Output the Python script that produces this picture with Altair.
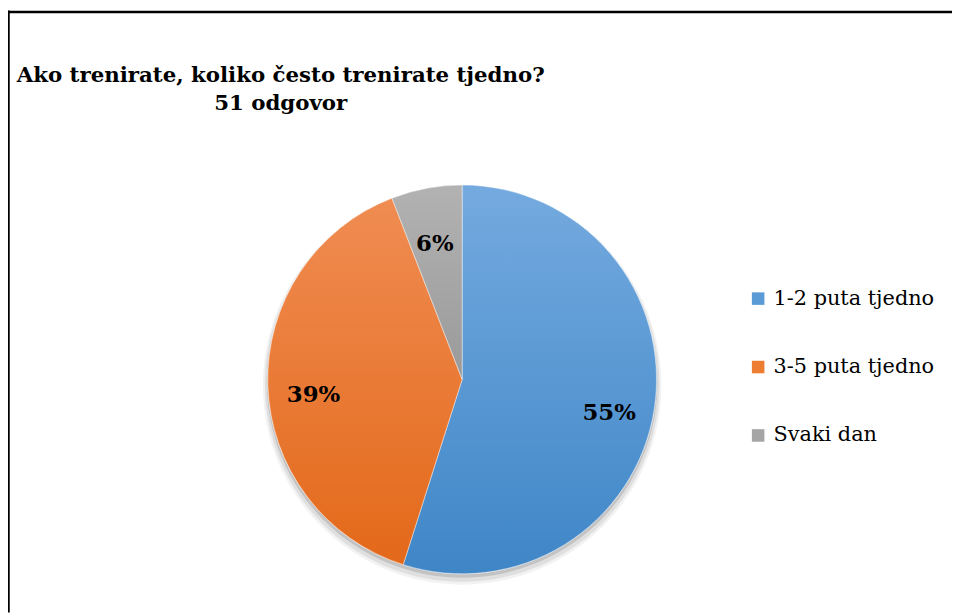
import altair as alt
import pandas as pd

# ---- data ----
categories = ["1-2 puta tjedno", "3-5 puta tjedno", "Svaki dan"]
counts = [28, 20, 3]          # 51 responses -> 55%, 39%, 6%
title_lines = ["Ako trenirate, koliko često trenirate tjedno?", "51 odgovor"]

solid_colors = ["#5b9bd5", "#ed7d31", "#a5a5a5"]
grad_top = ["#74aadf", "#f08c52", "#b2b2b2"]
grad_bottom = ["#3f86c7", "#e3691a", "#9a9a9a"]

FONT = "DejaVu Serif"

W, H = 952, 607
CX, CY, R = 458, 372, 196

df = pd.DataFrame({"cat": categories, "count": counts, "idx": list(range(len(categories)))})

base = alt.Chart(df).transform_joinaggregate(
    total="sum(count)"
).transform_window(
    cum="sum(count)", sort=[alt.SortField("idx")], frame=[None, 0]
).transform_calculate(
    start="(datum.cum - datum.count) / datum.total",
    end="datum.cum / datum.total",
    mid="(datum.cum - datum.count / 2) / datum.total",
    label="format(datum.count / datum.total, '.0%')",
)

theta_scale = alt.Scale(domain=[0, 1], range=[0, 6.283185307179586])

shadow_layers = []
for rad, dy, op in [(201, 6, 0.05), (199, 5, 0.08), (197, 3, 0.12)]:
    shadow_layers.append(
        alt.Chart(alt.Data(values=[{"a": 0}])).mark_arc(color="#000000", opacity=op).encode(
            x=alt.value(CX), y=alt.value(CY + dy),
            theta=alt.value(0), theta2=alt.value(6.283185307179586),
            radius=alt.value(rad),
        )
    )

solid = base.mark_arc(stroke="#ffffff", strokeWidth=0.6).encode(
    x=alt.value(CX), y=alt.value(CY),
    theta=alt.Theta("start:Q", scale=theta_scale, stack=None),
    theta2="end:Q",
    radius=alt.value(R),
    color=alt.Color(
        "cat:N",
        scale=alt.Scale(domain=categories, range=solid_colors),
        legend=alt.Legend(
            title=None, orient="none", legendX=746, legendY=280,
            symbolType="square", symbolSize=160, symbolStrokeWidth=0,
            labelFont=FONT, labelFontSize=21, labelColor="#000000",
            labelOffset=5, rowPadding=47, labelLimit=300,
        ),
    ),
)

grad_layers = []
for i, c in enumerate(categories):
    grad = alt.LinearGradient(
        gradient="linear", x1=0, y1=0, x2=0, y2=1,
        stops=[alt.GradientStop(offset=0, color=grad_top[i]),
               alt.GradientStop(offset=1, color=grad_bottom[i])],
    )
    grad_layers.append(
        base.transform_filter(alt.datum.cat == c).mark_arc(
            fill=grad, stroke="#ffffff", strokeWidth=0.6, strokeOpacity=0.7
        ).encode(
            x=alt.value(CX), y=alt.value(CY),
            theta=alt.Theta("start:Q", scale=theta_scale, stack=None),
            theta2="end:Q",
            radius=alt.value(R),
        )
    )

labels = base.mark_text(
    font=FONT, fontWeight="bold", fontSize=23, color="#000000",
    align="center", baseline="middle", dy=11,
).encode(
    x=alt.value(CX), y=alt.value(CY),
    theta=alt.Theta("mid:Q", scale=theta_scale, stack=None),
    radius=alt.value(150),
    text="label:N",
)

title_df = pd.DataFrame({"t": title_lines, "line": list(range(len(title_lines)))})
title = alt.Chart(title_df).mark_text(
    font=FONT, fontWeight="bold", fontSize=21.5, color="#000000",
    align="center", baseline="alphabetic",
).encode(
    x=alt.value(275),
    y=alt.Y("line:Q", scale=alt.Scale(domain=[0, 1], range=[72, 100]), axis=None),
    text="t:N",
)

frame_top = alt.Chart(alt.Data(values=[{"a": 0}])).mark_rule(color="#000000", strokeWidth=2.5).encode(
    x=alt.value(0), x2=alt.value(W), y=alt.value(1.5)
)
frame_left = alt.Chart(alt.Data(values=[{"a": 0}])).mark_rule(color="#000000", strokeWidth=2.5).encode(
    x=alt.value(0.5), y=alt.value(0), y2=alt.value(H)
)

chart = alt.layer(
    *shadow_layers, solid, *grad_layers, labels, title, frame_top, frame_left
).properties(
    width=W, height=H, autosize=alt.AutoSizeParams(type="none"), padding=0, background="#ffffff"
).configure_view(stroke=None)

chart.save("out.html", embed_options={"renderer": "svg", "actions": False})
